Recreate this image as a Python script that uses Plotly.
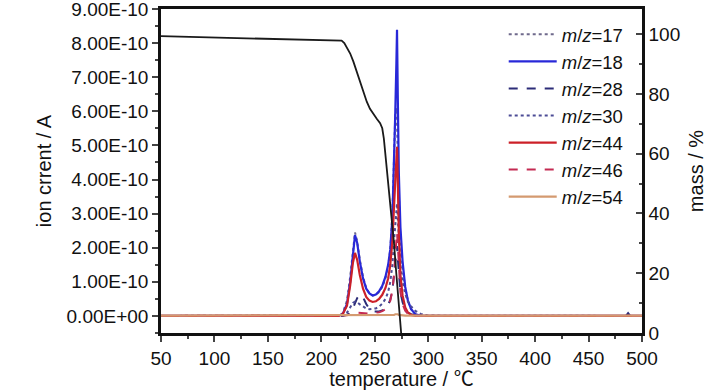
import plotly.graph_objects as go

# ---- data ----
temp = [50, 216, 220, 224, 227, 229.5, 231.5, 233.5, 236, 239, 242, 245, 248, 251, 254, 257,
        260, 262.5, 264.5, 266.5, 268, 269.2, 270.2, 270.8, 271.5, 272.5, 274, 276, 278.5,
        281, 284, 288, 293, 300, 485, 487, 489, 500]

# ion current in units of 1e-10 A
mz17 = [0, 0, 0.08, 0.45, 1.15, 2.0, 2.45, 2.2, 1.65, 1.15, 0.82, 0.66, 0.6, 0.62, 0.7, 0.85,
        1.1, 1.45, 1.95, 3.0, 4.6, 5.9, 6.1, 5.7, 4.6, 3.3, 2.2, 1.4, 0.8,
        0.45, 0.2, 0.06, 0.02, 0, 0, 0, 0, 0]
mz18 = [0, 0, 0.05, 0.35, 1.0, 1.85, 2.37, 2.15, 1.6, 1.1, 0.8, 0.66, 0.6, 0.63, 0.72, 0.88,
        1.15, 1.5, 1.95, 2.9, 4.4, 6.0, 7.4, 8.39, 6.5, 4.2, 2.6, 1.6, 0.85,
        0.45, 0.2, 0.05, 0.01, 0, 0, 0.02, 0, 0]
mz28 = [0, 0, 0, 0.03, 0.1, 0.22, 0.38, 0.52, 0.62, 0.55, 0.35, 0.2, 0.13, 0.12, 0.13, 0.16,
        0.22, 0.32, 0.48, 0.75, 1.2, 1.7, 2.0, 2.05, 1.7, 1.2, 0.7, 0.4, 0.2,
        0.1, 0.05, 0.02, 0, 0, 0, 0.08, 0, 0]
mz30 = [0, 0, 0.02, 0.1, 0.25, 0.38, 0.42, 0.4, 0.34, 0.27, 0.22, 0.2, 0.2, 0.22, 0.27, 0.36,
        0.5, 0.7, 1.0, 1.5, 2.2, 2.8, 3.2, 3.3, 2.9, 2.2, 1.5, 1.0, 0.65,
        0.42, 0.28, 0.15, 0.06, 0.01, 0, 0, 0, 0]
mz44 = [0, 0, 0.05, 0.3, 0.9, 1.55, 1.85, 1.65, 1.2, 0.8, 0.56, 0.45, 0.41, 0.43, 0.5, 0.62,
        0.82, 1.1, 1.5, 2.2, 3.2, 4.2, 4.8, 4.96, 4.0, 2.4, 1.2, 0.6, 0.25,
        0.1, 0.03, 0, 0, 0, 0, 0, 0, 0]
mz46 = [0, 0, 0, 0.02, 0.05, 0.08, 0.1, 0.1, 0.09, 0.08, 0.07, 0.07, 0.08, 0.09, 0.11, 0.14,
        0.2, 0.3, 0.45, 0.75, 1.2, 1.8, 2.3, 2.45, 2.1, 1.4, 0.7, 0.35, 0.15,
        0.06, 0.02, 0, 0, 0, 0, 0, 0, 0]
mz54 = [0.01, 0.01, 0.01, 0.01, 0.01, 0.01, 0.01, 0.01, 0.01, 0.01, 0.01, 0.01, 0.01, 0.01, 0.01, 0.01,
        0.01, 0.01, 0.02, 0.02, 0.03, 0.05, 0.06, 0.06, 0.05, 0.03, 0.02, 0.01, 0.01,
        0.01, 0.01, 0.01, 0.01, 0.01, 0.01, 0.01, 0.01, 0.01]

mass_temp = [50, 100, 150, 200, 219, 221.5, 224, 227, 230, 233, 236, 239, 242.5, 245.5, 249,
             252, 255, 257, 258.5, 260, 262, 264, 266, 268, 270, 272, 273.5, 275, 276.5]
mass = [99.3, 98.9, 98.4, 98.0, 97.8, 97.0, 95.5, 93.5, 90.8, 87.6, 84.2, 80.8, 77.4, 75.0, 73.0,
        71.6, 70.2, 68.5, 65.0, 59.5, 52.5, 45.0, 38.0, 30.0, 20.5, 10.5, 3.5, -1.5, -6]

left_tickvals = [0, 1e-10, 2e-10, 3e-10, 4e-10, 5e-10, 6e-10, 7e-10, 8e-10, 9e-10]
left_ticktext = ["0.00E+00", "1.00E-10", "2.00E-10", "3.00E-10", "4.00E-10",
                 "5.00E-10", "6.00E-10", "7.00E-10", "8.00E-10", "9.00E-10"]
x_ticks = [50, 100, 150, 200, 250, 300, 350, 400, 450, 500]
right_ticks = [0, 20, 40, 60, 80, 100]

series = [
    ("17", mz17, "#6f6a8c", "dot"),
    ("18", mz18, "#2828d8", "solid"),
    ("28", mz28, "#2c2c78", "dash"),
    ("30", mz30, "#4c4c96", "dot"),
    ("44", mz44, "#cc2028", "solid"),
    ("46", mz46, "#c42a52", "dash"),
    ("54", mz54, "#d49a70", "solid"),
]

FONT = "Liberation Sans, Arial, Noto Sans CJK SC, sans-serif"

fig = go.Figure()
for name, vals, color, dash in series:
    fig.add_trace(go.Scatter(
        x=temp, y=[v * 1e-10 for v in vals], mode="lines",
        name="<i>m</i>/<i>z</i>=" + name,
        line=dict(color=color, dash=dash, width=2.2 if dash == "solid" else 2),
    ))

fig.add_trace(go.Scatter(
    x=mass_temp, y=mass, mode="lines", yaxis="y2", showlegend=False,
    line=dict(color="#1a1a1a", width=1.8), name="mass",
))

fig.update_layout(
    width=728, height=390,
    margin=dict(l=161, r=86, t=9, b=57, autoexpand=False),
    paper_bgcolor="white", plot_bgcolor="white",
    font=dict(family=FONT, size=19, color="#111"),
    showlegend=True,
    legend=dict(x=0.7125, y=0.979, xanchor="left", yanchor="top",
                bgcolor="rgba(0,0,0,0)", font=dict(size=18.5), itemwidth=48,
                tracegroupgap=0),
    xaxis=dict(range=[50, 500], tickvals=x_ticks, ticks="outside", ticklen=6, tickwidth=1.5,
               showline=True, linewidth=2.5, linecolor="#111", mirror=True,
               showgrid=False, zeroline=False, automargin=False, ticklabeloverflow="allow",
               minor=dict(dtick=25, tick0=50, ticks="outside", ticklen=3, tickwidth=1.5),
               title=dict(text="temperature / ℃", standoff=0, font=dict(size=20))),
    yaxis=dict(range=[-0.5e-10, 9e-10], tickvals=left_tickvals, ticktext=left_ticktext,
               ticks="outside", ticklen=6, tickwidth=1.5,
               showline=True, linewidth=2.5, linecolor="#111",
               showgrid=False, zeroline=False, automargin=False, ticklabeloverflow="allow",
               minor=dict(dtick=0.5e-10, tick0=0, ticks="outside", ticklen=3, tickwidth=1.5),
               title=dict(text="ion crrent / A", standoff=10, font=dict(size=20))),
    yaxis2=dict(range=[0, 108.4], tickvals=right_ticks, overlaying="y", side="right",
                ticks="inside", ticklen=6, tickwidth=1.5,
                showline=True, linewidth=2.5, linecolor="#111",
                showgrid=False, zeroline=False, automargin=False, ticklabeloverflow="allow",
                minor=dict(dtick=10, tick0=0, ticks="inside", ticklen=3, tickwidth=1.5),
                title=dict(text="mass / %", standoff=10, font=dict(size=20))),
)

fig.write_html("out.html", config={"displayModeBar": False},
               post_script="document.body.style.margin='0';")
